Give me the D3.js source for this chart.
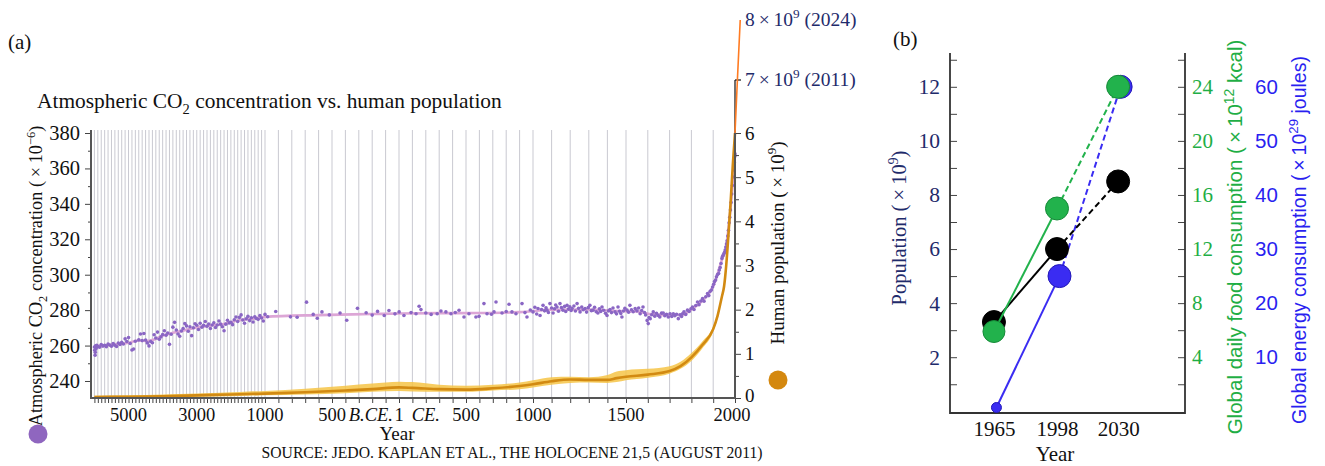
<!DOCTYPE html>
<html>
<head>
<meta charset="utf-8">
<script src="https://cdn.jsdelivr.net/npm/d3@7"></script>
<style>
  body { margin: 0; background: #fff; }
  svg { display: block; }
</style>
</head>
<body>
<svg id="chart" width="1325" height="466"></svg>
<script>
// ---- panel (a) data ----
// CO2 ice-core / instrumental samples: [year, ppm] (negative = BCE)
const co2Samples = [
  [-6000,259.2],[-5990,257.4],[-5980,254.6],[-5975,256.2],[-5965,259.8],[-5950,258.3],[-5930,260.1],[-5900,259.5],
  [-5850,259.1],[-5800,260.6],[-5750,259.7],[-5700,260.2],[-5650,259.4],[-5600,260.8],[-5550,260.3],[-5500,259.6],
  [-5450,261.1],[-5400,260.2],[-5350,259.5],[-5300,261.4],[-5250,260.6],[-5200,261.8],[-5150,260.9],[-5100,263.8],
  [-5050,262.3],[-5000,264.5],[-4950,261.2],[-4900,257.5],[-4850,258.1],[-4800,262.4],[-4700,263.2],[-4650,266.5],
  [-4600,262.8],[-4550,266.8],[-4500,263.1],[-4450,261.5],[-4400,259.8],[-4350,262.3],[-4300,261.6],[-4250,266.1],
  [-4200,264.3],[-4150,267.6],[-4100,263.6],[-4050,264.9],[-4000,266.2],[-3950,268.4],[-3900,265.8],[-3850,267.1],
  [-3800,260.7],[-3750,266.4],[-3700,270.4],[-3650,273.1],[-3600,268.8],[-3550,266.5],[-3500,265.3],[-3450,268.2],
  [-3400,269.6],[-3350,272.4],[-3300,271.1],[-3250,268.1],[-3200,270.6],[-3150,265.6],[-3100,270.1],[-3050,272.3],
  [-3000,271.5],[-2950,269.1],[-2900,272.6],[-2850,270.3],[-2800,271.4],[-2750,273.6],[-2700,270.9],[-2650,272.2],
  [-2600,269.6],[-2550,271.6],[-2500,272.9],[-2450,270.2],[-2400,271.6],[-2350,273.9],[-2300,272.1],[-2250,270.6],
  [-2200,268.4],[-2150,272.1],[-2100,274.3],[-2050,272.8],[-2000,273.1],[-1950,271.8],[-1900,274.6],[-1850,276.1],
  [-1800,273.6],[-1750,275.9],[-1700,277.3],[-1650,274.4],[-1600,272.6],[-1550,275.1],[-1500,276.5],[-1450,274.1],
  [-1400,275.7],[-1350,273.3],[-1300,276.2],[-1250,275.3],[-1200,274.8],[-1150,276.9],[-1100,275.6],[-1050,273.9],
  [-1000,277.6],[-980,276.3],[-920,279.2],
  [-810,276.2],[-760,276.0],[-690,284.5],[-640,277.6],[-610,275.4],[-575,279.0],[-520,277.3],[-440,278.4],
  [-390,274.3],[-310,281.0],[-245,278.5],[-200,277.2],[-160,279.3],[-110,277.0],[-75,279.8],[-30,277.9],
  [1,279.0],[37,277.0],[90,278.6],[127,278.0],[150,282.2],[164,280.3],[200,278.4],[240,277.6],[285,278.0],
  [313,279.5],[350,279.0],[388,278.0],[420,278.7],[448,279.9],[485,276.1],[522,278.0],[574,276.1],[597,276.5],
  [634,283.7],[657,278.0],[690,277.7],[709,279.0],[724,284.6],[769,278.4],[800,279.2],[821,283.3],[843,279.0],
  [873,278.0],[918,283.7],[940,278.6],[955,276.1],[980,280.1],
  [1000,279.0],[1010,281.6],[1020,277.8],[1027,280.9],[1038,277.0],[1046,280.4],[1054,282.7],[1062,279.6],
  [1070,281.3],[1075,280.0],[1083,278.7],[1091,283.7],[1100,281.2],[1108,278.4],[1116,280.8],[1122,282.9],
  [1129,281.8],[1137,279.4],[1145,283.7],[1153,281.5],[1161,280.0],[1170,282.1],[1176,279.2],[1183,282.7],
  [1190,280.6],[1198,281.9],[1205,279.8],[1210,280.9],[1220,282.3],[1228,279.5],[1237,283.7],[1245,281.0],
  [1253,279.0],[1262,281.8],[1270,280.2],[1280,280.9],[1288,278.9],[1297,281.4],[1306,282.7],[1314,279.7],
  [1323,280.0],[1331,281.6],[1340,279.1],[1349,278.4],[1357,280.7],[1364,279.3],[1371,281.8],[1380,279.9],
  [1390,278.2],[1398,277.0],[1406,279.6],[1414,280.3],[1422,278.6],[1430,281.2],[1441,279.0],[1449,277.9],
  [1457,281.8],[1465,279.4],[1472,278.1],[1478,276.1],[1486,279.5],[1494,281.0],[1505,280.0],[1512,278.8],
  [1518,282.7],[1525,280.2],[1533,279.1],[1542,280.9],[1550,279.6],[1558,281.2],[1565,278.0],[1572,279.8],
  [1578,281.8],[1585,278.7],[1590,277.3],[1597,274.2],[1602,272.4],[1606,275.8],[1611,275.2],[1618,277.4],
  [1625,279.0],[1632,276.6],[1640,278.2],[1648,277.0],[1655,276.1],[1663,278.3],[1671,278.4],[1678,276.8],
  [1686,277.6],[1694,276.1],[1702,277.9],[1710,276.4],[1717,278.0],[1724,276.9],[1732,277.7],[1740,275.2],
  [1748,277.3],[1755,276.4],[1759,278.0],[1766,279.1],[1774,277.6],[1782,280.0],[1790,279.2],[1798,280.8],
  [1805,281.8],[1812,280.4],[1820,282.6],[1828,284.6],[1835,283.1],[1843,285.2],[1851,286.5],[1858,285.0],
  [1866,287.6],[1874,289.4],[1880,288.2],[1886,290.6],[1892,291.4],[1897,293.1],[1902,294.6],[1906,296.2],
  [1911,297.0],[1915,298.8],[1920,300.1],[1925,300.7],[1928,302.6],[1932,304.1],[1936,306.3],[1940,309.2],
  [1943,310.4],[1946,311.1],[1949,311.8],[1952,312.6],[1955,313.9],[1958,315.6],[1961,317.4],[1964,319.2],
  [1967,321.8],[1970,325.1],[1973,329.3],[1976,332.4],[1979,336.6],[1982,340.8],[1985,345.6],[1988,350.4],
  [1991,355.2],[1994,359.1],[1997,363.4],[1999,366.8],[2000,368.2]
];

// smoothed CO2 curve
const co2Trend = [
  [-6000,259.6],[-5500,260.4],[-5000,261.6],[-4700,262.9],[-4450,262.6],[-4250,263.4],[-4000,265.6],
  [-3700,267.2],[-3400,268.4],[-3000,270.2],[-2600,271.3],[-2200,272.2],[-1800,274.1],[-1400,275.1],
  [-1000,276.2],[-600,277.2],[-200,277.8],[1,278.1],[300,278.3],[600,278.4],[900,278.9],[1100,280.2],
  [1300,280.4],[1450,279.5],[1550,279.3],[1620,277.6],[1700,277.2],[1760,277.4],[1800,280.4],[1850,285.2],
  [1900,293.5],[1940,308.5],[1960,316.5],[1980,338],[2000,368]
];

// human population (x 10^9): central estimate and uncertainty band
const popYears = [-6000,-5000,-4000,-3000,-2000,-1500,-1000,-700,-400,-200,1,100,300,500,700,900,1000,1100,1200,1300,1400,1450,1500,1600,1700,1750,1800,1850,1900,1920,1940,1950,1960,1970,1980,1990,2000];
const popMid  = [0.02,0.03,0.04,0.06,0.08,0.09,0.10,0.13,0.17,0.20,0.24,0.23,0.20,0.19,0.22,0.27,0.31,0.38,0.42,0.41,0.41,0.45,0.48,0.53,0.61,0.72,0.92,1.20,1.56,1.86,2.30,2.53,3.02,3.70,4.44,5.28,6.00];
const popLow  = [0.00,0.01,0.02,0.03,0.04,0.05,0.06,0.08,0.11,0.14,0.16,0.15,0.14,0.14,0.17,0.20,0.24,0.30,0.34,0.35,0.34,0.36,0.40,0.46,0.55,0.66,0.84,1.12,1.50,1.80,2.25,2.50,3.00,3.68,4.42,5.26,5.98];
const popHigh = [0.05,0.06,0.08,0.10,0.13,0.15,0.16,0.21,0.28,0.33,0.37,0.36,0.30,0.28,0.30,0.35,0.40,0.47,0.48,0.47,0.52,0.60,0.63,0.66,0.72,0.82,1.02,1.28,1.62,1.90,2.34,2.56,3.04,3.72,4.46,5.30,6.02];
// recent extension beyond the axis
const popRecentYears = [2000, 2011, 2024];
const popRecent = [6, 7, 8];

const co2Ticks = [240, 260, 280, 300, 320, 340, 360, 380];
const co2Minor = [250, 270, 290, 310, 330, 350, 370];
const popTicks = [0, 1, 2, 3, 4, 5, 6];
const popMinor = [0.5, 1.5, 2.5, 3.5, 4.5, 5.5];
const yearLabelYears = [-5000, -3000, -1000, -500, 1, 500, 1000, 1500, 2000];
const yearLabelText = ["5000", "3000", "1000", "500", "1", "500", "1000", "1500", "2000"];
const eraYears = [-210, 200];
const eraText = ["B.CE.", "CE."];

// ---- panel (b) data ----
const bYears = [1965, 1998, 2030];
const populationB = [3.3, 6.0, 8.5];   // x 10^9
const foodB = [5.9, 15.0, 24.0];       // x 10^12 kcal
const energyB = [0.7, 25.0, 60.0];     // x 10^29 joules
const foodTicks = [4, 8, 12, 16, 20, 24];
const energyTicks = [10, 20, 30, 40, 50, 60];

const SERIF = "'Liberation Serif', 'Times New Roman', serif";
const SANS = "'Liberation Sans', Arial, sans-serif";
const NAVY = "#1f2b6b";
const TIMES = "\u2009×\u2009"; // spaced multiplication sign

const svg = d3.select("#chart");
svg.append("rect").attr("width", 1325).attr("height", 466).attr("fill", "#fff");

// text with sub/superscripts
function rich(sel, parts, size) {
  let cur = 0;
  parts.forEach(function(p) {
    const off = p.sup ? -0.4 * size : p.sub ? 0.28 * size : 0;
    sel.append("tspan")
      .attr("dy", off - cur)
      .attr("font-size", (p.sup || p.sub) ? size * 0.68 : size)
      .text(p.t);
    cur = off;
  });
}

function styleAxis(g, size, color, family) {
  g.selectAll("text").attr("font-family", family || SERIF).attr("font-size", size).attr("fill", color || "#111");
  g.selectAll("line").attr("stroke", "#444");
  g.select(".domain").remove();
}

// ================= panel (a) =================
const x = d3.scaleLinear().domain([-6100, -1000, 1000, 1500, 2000]).range([91, 265, 533, 626, 735]);
const yCO2 = d3.scaleLinear().domain([230.4, 380]).range([398, 133]);
const yPop = d3.scaleLinear().domain([0, 6, 7, 8]).range([398, 133, 80, 20]);
const plotTop = 130, plotBottom = 398;

const a = svg.append("g");

const gridYears = d3.range(-6000, 2000, 100);
a.append("g").selectAll("line").data(gridYears).enter().append("line")
  .attr("x1", d => x(d)).attr("x2", d => x(d))
  .attr("y1", plotTop).attr("y2", plotBottom)
  .attr("stroke", "#c3c3cc").attr("stroke-width", 0.9);

// CO2 trend + samples
a.append("path")
  .datum(co2Trend)
  .attr("fill", "none").attr("stroke", "#dca6d6").attr("stroke-width", 2.6)
  .attr("d", d3.line().x(d => x(d[0])).y(d => yCO2(d[1])).curve(d3.curveMonotoneX));

a.append("g").selectAll("circle").data(co2Samples).enter().append("circle")
  .attr("cx", d => x(d[0])).attr("cy", d => yCO2(d[1])).attr("r", 1.8)
  .attr("fill", "#8a66c4");

// population band + line
const popData = popYears.map((yr, i) => ({ year: yr, mid: popMid[i], low: popLow[i], high: popHigh[i] }));
a.append("path").datum(popData)
  .attr("fill", "#f6c447").attr("opacity", 0.85)
  .attr("d", d3.area().x(d => x(d.year)).y0(d => yPop(d.low)).y1(d => yPop(d.high)).curve(d3.curveMonotoneX));
a.append("path").datum(popData)
  .attr("fill", "none").attr("stroke", "#d28a12").attr("stroke-width", 2.6)
  .attr("d", d3.line().x(d => x(d.year)).y(d => yPop(d.mid)).curve(d3.curveMonotoneX));

// axes
const bottomAxis = a.append("g").attr("transform", "translate(0," + plotBottom + ")")
  .call(d3.axisBottom(x).tickValues(gridYears.concat([2000])).tickSize(5).tickFormat(""));
styleAxis(bottomAxis, 18);

const leftAxis = a.append("g").attr("transform", "translate(91,0)")
  .call(d3.axisLeft(yCO2).tickValues(co2Ticks).tickSize(6).tickPadding(5));
styleAxis(leftAxis, 20.5);
const leftMinor = a.append("g").attr("transform", "translate(91,0)")
  .call(d3.axisLeft(yCO2).tickValues(co2Minor).tickSize(3).tickFormat(""));
styleAxis(leftMinor, 20);

const rightAxis = a.append("g").attr("transform", "translate(735,0)")
  .call(d3.axisRight(yPop).tickValues(popTicks).tickSize(6).tickPadding(4));
styleAxis(rightAxis, 19);
rightAxis.selectAll(".tick text").filter(d => d === 0).attr("dy", "0.2em");
const rightMinor = a.append("g").attr("transform", "translate(735,0)")
  .call(d3.axisRight(yPop).tickValues(popMinor).tickSize(4).tickFormat(""));
styleAxis(rightMinor, 19);

// axis lines
a.append("line").attr("x1", 91).attr("x2", 91).attr("y1", plotTop).attr("y2", plotBottom).attr("stroke", "#555").attr("stroke-width", 2);
a.append("line").attr("x1", 735).attr("x2", 735).attr("y1", yPop(6)).attr("y2", plotBottom).attr("stroke", "#555").attr("stroke-width", 2);
a.append("line").attr("x1", 90).attr("x2", 736).attr("y1", plotBottom).attr("y2", plotBottom).attr("stroke", "#555").attr("stroke-width", 2);
a.append("line").attr("x1", 735).attr("x2", 735).attr("y1", yPop(7)).attr("y2", yPop(6)).attr("stroke", "#111").attr("stroke-width", 1.2);
a.append("line").attr("x1", 735).attr("x2", 741).attr("y1", yPop(7)).attr("y2", yPop(7)).attr("stroke", "#111").attr("stroke-width", 1.2);

// recent population extension
a.append("path")
  .datum(popRecentYears.map((yr, i) => [yr, popRecent[i]]))
  .attr("fill", "none").attr("stroke", "#ff7b22").attr("stroke-width", 1.6)
  .attr("d", d3.line().x(d => x(d[0])).y(d => yPop(d[1])));

// year labels
a.append("g").selectAll("text").data(yearLabelYears).enter().append("text")
  .attr("x", (d, i) => x(d) - (i === yearLabelYears.length - 1 ? 3 : 0)).attr("y", 421)
  .attr("text-anchor", "middle").attr("font-family", SERIF).attr("font-size", 18.5).attr("fill", "#111")
  .text((d, i) => yearLabelText[i]);
a.append("g").selectAll("text").data(eraYears).enter().append("text")
  .attr("x", d => x(d)).attr("y", 421)
  .attr("text-anchor", "middle").attr("font-family", SERIF).attr("font-size", 18.5)
  .attr("font-style", "italic").attr("fill", "#111")
  .text((d, i) => eraText[i]);

a.append("text").attr("x", 397).attr("y", 440).attr("text-anchor", "middle")
  .attr("font-family", SERIF).attr("font-size", 19).attr("fill", "#111").text("Year");
a.append("text").attr("x", 512).attr("y", 458).attr("text-anchor", "middle")
  .attr("font-family", SERIF).attr("font-size", 15.7).attr("fill", "#111")
  .text("SOURCE: JEDO. KAPLAN ET AL., THE HOLOCENE 21,5 (AUGUST 2011)");

// annotations for 7 and 8 billion
const ann1 = a.append("text").attr("x", 745).attr("y", 26).attr("font-family", SERIF).attr("fill", NAVY);
rich(ann1, [{ t: "8" + TIMES + "10" }, { t: "9", sup: true }, { t: " (2024)" }], 19.5);
const ann2 = a.append("text").attr("x", 745).attr("y", 86).attr("font-family", SERIF).attr("fill", NAVY);
rich(ann2, [{ t: "7" + TIMES + "10" }, { t: "9", sup: true }, { t: " (2011)" }], 19.5);

// title, panel tag, axis titles
const title = a.append("text").attr("x", 37).attr("y", 108).attr("font-family", SERIF).attr("fill", "#111");
rich(title, [{ t: "Atmospheric CO" }, { t: "2", sub: true }, { t: " concentration vs. human population" }], 21.4);

svg.append("text").attr("x", 8).attr("y", 49).attr("font-family", SERIF).attr("font-size", 21).attr("fill", "#111").text("(a)");

const ylabA = a.append("text").attr("transform", "translate(42,276) rotate(-90)")
  .attr("text-anchor", "middle").attr("font-family", SERIF).attr("fill", "#111");
rich(ylabA, [{ t: "Atmospheric CO" }, { t: "2", sub: true }, { t: " concentration (" + TIMES + "10" }, { t: "−6", sup: true }, { t: ")" }], 18.3);

const ylabA2 = a.append("text").attr("transform", "translate(784,243) rotate(-90)")
  .attr("text-anchor", "middle").attr("font-family", SERIF).attr("fill", "#111");
rich(ylabA2, [{ t: "Human population (" + TIMES + "10" }, { t: "9", sup: true }, { t: ")" }], 19);

a.append("circle").attr("cx", 38).attr("cy", 434).attr("r", 9.5).attr("fill", "#8f66bf");
a.append("circle").attr("cx", 778).attr("cy", 380).attr("r", 9.5).attr("fill", "#d4880f");

// ================= panel (b) =================
const xB = d3.scaleLinear().domain([1942, 2065]).range([950, 1185]);
const yB = d3.scaleLinear().domain([0, 13.25]).range([411.3, 53]);
const yFood = d3.scaleLinear().domain([0, 26.5]).range([411.3, 53]);
const yEnergy = d3.scaleLinear().domain([0, 66.25]).range([411.3, 53]);

const b = svg.append("g");
svg.append("text").attr("x", 893).attr("y", 46).attr("font-family", SERIF).attr("font-size", 21).attr("fill", "#111").text("(b)");

const bLeft = b.append("g").attr("transform", "translate(950,0)")
  .call(d3.axisLeft(yB).tickValues(d3.range(1, 14)).tickSize(-7).tickPadding(10)
    .tickFormat(d => d % 2 === 0 ? d : ""));
styleAxis(bLeft, 21.5, NAVY);

const bRight = b.append("g").attr("transform", "translate(1185,0)")
  .call(d3.axisRight(yB).tickValues(d3.range(1, 14)).tickSize(-7).tickFormat(""));
styleAxis(bRight, 20);

const bFood = b.append("g").attr("transform", "translate(1185,0)")
  .call(d3.axisRight(yFood).tickValues(foodTicks).tickSize(0).tickPadding(7));
styleAxis(bFood, 21, "#1fae45");

const bEnergy = b.append("g").attr("transform", "translate(1255,0)")
  .call(d3.axisRight(yEnergy).tickValues(energyTicks).tickSize(0).tickPadding(0));
styleAxis(bEnergy, 20.5, "#2a1ff0", SANS);

const bBottom = b.append("g").attr("transform", "translate(0,413)")
  .call(d3.axisBottom(xB).tickValues(bYears).tickSize(0).tickPadding(8).tickFormat(d3.format("d")));
styleAxis(bBottom, 21);

b.append("path").attr("d", "M950,53V413H1185V53").attr("fill", "none").attr("stroke", "#333").attr("stroke-width", 1.8);

b.append("text").attr("x", 1055).attr("y", 461).attr("text-anchor", "middle")
  .attr("font-family", SERIF).attr("font-size", 21).attr("fill", "#111").text("Year");

const ylabB = b.append("text").attr("transform", "translate(906,228) rotate(-90)")
  .attr("text-anchor", "middle").attr("font-family", SERIF).attr("fill", NAVY);
rich(ylabB, [{ t: "Population (" + TIMES + "10" }, { t: "9", sup: true }, { t: ")" }], 20.5);

const ylabFood = b.append("text").attr("transform", "translate(1242,237) rotate(-90)")
  .attr("text-anchor", "middle").attr("font-family", SANS).attr("fill", "#1fae45");
rich(ylabFood, [{ t: "Global daily food consumption (" + TIMES + "10" }, { t: "12", sup: true }, { t: " kcal)" }], 20.5);

const ylabEnergy = b.append("text").attr("transform", "translate(1306,240) rotate(-90)")
  .attr("text-anchor", "middle").attr("font-family", SANS).attr("fill", "#2a1ff0");
rich(ylabEnergy, [{ t: "Global energy consumption (" + TIMES + "10" }, { t: "29", sup: true }, { t: " joules)" }], 19.5);

const seriesB = [
  { vals: energyB, scale: yEnergy, fill: "#3a2cf2", stroke: "#2218b8", dx: 2.5, first: 5 },
  { vals: populationB, scale: yB, fill: "#000", stroke: "#000", dx: 0, first: 11.5 },
  { vals: foodB, scale: yFood, fill: "#22b24c", stroke: "#168a38", dx: 0, first: 11 }
];
seriesB.forEach(function(s) {
  const g = b.append("g").attr("transform", "translate(" + s.dx + ",0)");
  const pts = bYears.map((yr, i) => [xB(yr), s.scale(s.vals[i])]);
  g.append("line").attr("x1", pts[0][0]).attr("y1", pts[0][1]).attr("x2", pts[1][0]).attr("y2", pts[1][1])
    .attr("stroke", s.fill).attr("stroke-width", 2);
  g.append("line").attr("x1", pts[1][0]).attr("y1", pts[1][1]).attr("x2", pts[2][0]).attr("y2", pts[2][1])
    .attr("stroke", s.fill).attr("stroke-width", 2).attr("stroke-dasharray", "6,3.5");
  g.selectAll("circle").data(pts).enter().append("circle")
    .attr("cx", d => d[0]).attr("cy", d => d[1])
    .attr("r", (d, i) => i === 0 ? s.first : 11.5)
    .attr("fill", s.fill).attr("stroke", s.stroke).attr("stroke-width", 1);
});
</script>
</body>
</html>
